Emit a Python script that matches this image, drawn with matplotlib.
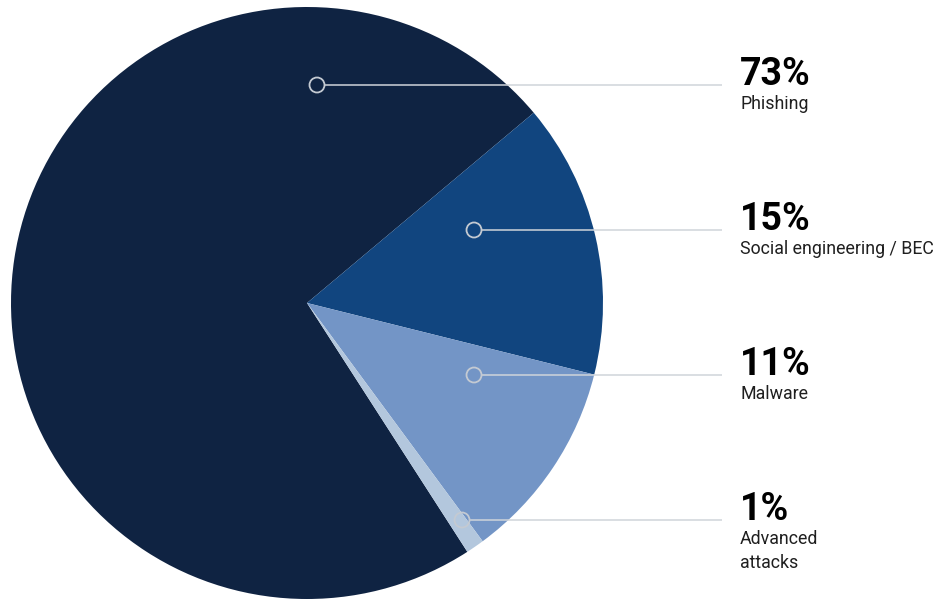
import matplotlib.pyplot as plt
from matplotlib.patches import Circle

# data
categories = ["Phishing", "Social engineering / BEC", "Malware", "Advanced\nattacks"]
shares = [73, 15, 11, 1]
pct_labels = ["73%", "15%", "11%", "1%"]
colors = ["#0f2342", "#11457f", "#7395c6", "#b3c7dd"]

W, H = 942, 614
# pixel helpers (y measured from top)
def py(y):
    return H - y

cx, cy, r = 307, py(303), 296
dots = [(317, 85), (474, 230), (474, 375), (462, 520)]
line_end = 722
text_x = 740

fig = plt.figure(figsize=(W / 100, H / 100), dpi=100)
ax = fig.add_axes([0, 0, 1, 1])

ax.pie(shares, colors=colors, startangle=302.8, counterclock=False,
       center=(cx, cy), radius=r, wedgeprops={"linewidth": 0})

for (dx, dy), pct, cat in zip(dots, pct_labels, categories):
    ax.plot([dx + 8, line_end], [py(dy), py(dy)], color="#cfd4da", lw=1.1,
            solid_capstyle="butt", zorder=3)
    ax.add_patch(Circle((dx, py(dy)), 7.5, fill=False, edgecolor="#c4cad2",
                        lw=1.3, zorder=4))
    ax.text(text_x, py(dy), pct, fontfamily="Roboto", fontweight="bold",
            fontsize=27, color="#000000", va="baseline", ha="left")
    ax.text(text_x, py(dy + 10), cat, fontfamily="Roboto", fontsize=12.8,
            color="#1f1f1f", va="top", ha="left", linespacing=1.45)

ax.set_xlim(0, W)
ax.set_ylim(0, H)
ax.set_aspect("auto")
ax.axis("off")

fig.savefig("out.png", dpi=100, facecolor="white")
